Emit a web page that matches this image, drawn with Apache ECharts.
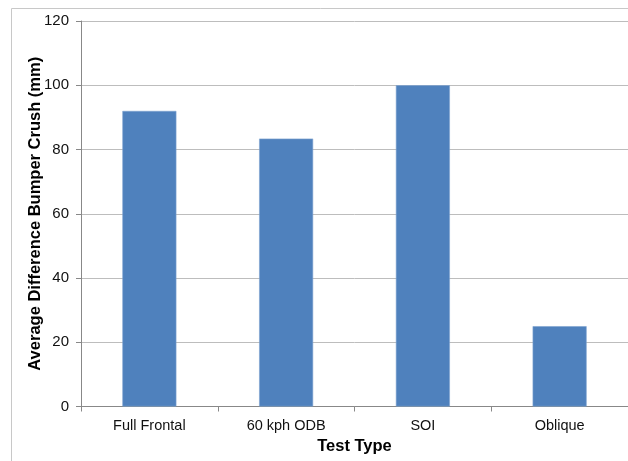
<!DOCTYPE html>
<html>
<head>
<meta charset="utf-8">
<script src="https://cdn.jsdelivr.net/npm/echarts@6/dist/echarts.min.js"></script>
<style>html,body{margin:0;padding:0;background:#fff;}#c{width:628px;height:461px;}</style>
</head>
<body>
<div id="c"></div>
<script>
const categories = ["Full Frontal", "60 kph ODB", "SOI", "Oblique"];
const values = [92, 83.4, 100, 25];
const yTicks = { min: 0, max: 120, interval: 20 };
const yName = "Average Difference Bumper Crush (mm)";
const xName = "Test Type";

const chart = echarts.init(document.getElementById('c'), null, { renderer: 'canvas' });
const font = "'Liberation Sans', Arial, sans-serif";
chart.setOption({
  animation: false,
  backgroundColor: '#fff',
  graphic: [{
    type: 'rect',
    shape: { x: 11.5, y: 8.5, width: 700, height: 500 },
    style: { fill: 'none', stroke: '#c8c8c8', lineWidth: 1 },
    silent: true, z: -10
  }],
  grid: { left: 81, top: 21, width: 548, height: 385.5, containLabel: false },
  xAxis: {
    type: 'category',
    data: categories,
    name: xName,
    nameLocation: 'middle',
    nameGap: 31,
    nameMoveOverlap: false,
    nameTextStyle: { fontFamily: font, fontSize: 16.5, fontWeight: 'bold', color: '#000' },
    axisLine: { lineStyle: { color: '#888', width: 1 } },
    axisTick: { show: true, length: 5, lineStyle: { color: '#888' } },
    axisLabel: { fontFamily: font, fontSize: 14.5, color: '#111', margin: 12 },
    splitLine: { show: false }
  },
  yAxis: {
    type: 'value',
    min: yTicks.min, max: yTicks.max, interval: yTicks.interval,
    name: yName,
    nameLocation: 'middle',
    nameGap: 37,
    nameMoveOverlap: false,
    nameTextStyle: { fontFamily: font, fontSize: 16.5, fontWeight: 'bold', color: '#000' },
    axisLine: { show: true, lineStyle: { color: '#888', width: 1 } },
    axisTick: { show: true, length: 5, lineStyle: { color: '#888' } },
    axisLabel: { fontFamily: font, fontSize: 15, color: '#111', margin: 12 },
    splitLine: { show: true, lineStyle: { color: '#bdbdbd', width: 1 } }
  },
  series: [{
    type: 'bar',
    data: values,
    barWidth: 54,
    itemStyle: { color: '#4f81bd', borderColor: '#7ea2d0', borderWidth: 0.6 }
  }]
});
</script>
</body>
</html>
